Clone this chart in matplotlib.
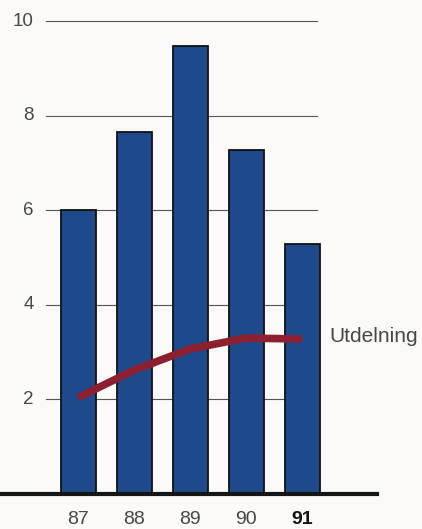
import matplotlib
matplotlib.use("Agg")
import matplotlib.pyplot as plt
import matplotlib.transforms as mtransforms

years = ["87", "88", "89", "90", "91"]
vinst = [6.02, 7.66, 9.49, 7.28, 5.29]
utdelning = [2.04, 2.62, 3.07, 3.30, 3.28]
yticks = [2, 4, 6, 8, 10]
line_label = "Utdelning"

plt.rcParams['font.family'] = ['Liberation Sans', 'DejaVu Sans']

bg = "#fbfaf7"
fig = plt.figure(figsize=(4.22, 5.29), dpi=100, facecolor=bg)
# axes spans from left edge to end of baseline (377 px), bottom at baseline
ax = fig.add_axes([0, 35 / 529, 377 / 422, 486.7 / 529])
ax.set_facecolor("none")
ax.set_xlim(-78 / 56, (377 - 78) / 56)
ax.set_ylim(0, 10.3)
for s in ax.spines.values():
    s.set_visible(False)
ax.set_xticks([])
ax.set_yticks([])

x = list(range(len(years)))

# grid lines
for t in yticks:
    ax.axhline(t, xmin=46 / 377, xmax=317 / 377, color="#555555", lw=0.8, zorder=1)

trans = mtransforms.blended_transform_factory(ax.transAxes, ax.transData)
for t in yticks:
    ax.text(34 / 377, t, str(t), transform=trans, ha="right", va="center",
            fontsize=13.5, color="#474747")

ax.bar(x, vinst, width=0.625, color="#1d4a8b", edgecolor="#111111",
       linewidth=1.3, zorder=2)
ax.plot(x, utdelning, color="#8d2030", lw=5.5, solid_capstyle="butt", zorder=3)
ax.text(4.48, utdelning[-1] + 0.05, line_label, ha="left", va="center",
        fontsize=15, color="#474747")

# baseline
ax.axhline(0, color="#151515", lw=3, zorder=4, clip_on=False)

for i, yr in enumerate(years):
    ax.text(i, -0.55, yr, ha="center", va="center", fontsize=14,
            color="#474747" if i < 4 else "#151515",
            fontweight="normal" if i < 4 else "bold")

fig.savefig("out.png", dpi=100, facecolor=bg)
